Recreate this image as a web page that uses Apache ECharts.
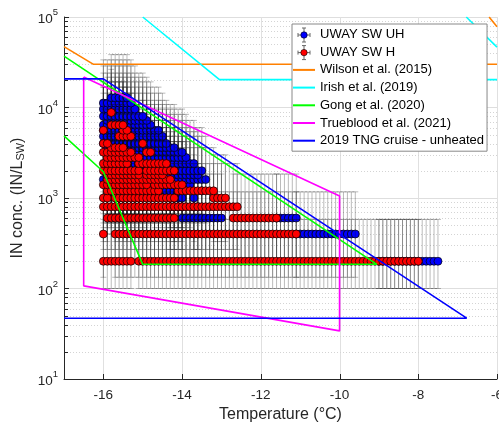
<!DOCTYPE html>
<html><head><meta charset="utf-8">
<script src="https://cdn.jsdelivr.net/npm/echarts@6/dist/echarts.min.js"></script>
<style>html,body{margin:0;padding:0;background:#fff}#c{width:499px;height:423px}</style>
</head><body><div id="c"></div>
<script>
const FONT = 'Liberation Sans, Arial, Helvetica, sans-serif';

// ---- axis ticks ----
const xTickValues = [-16, -14, -12, -10, -8, -6];
const yDecades = [10, 100, 1000, 10000, 100000];

// ---- concentration levels (IN/L) and their error-bar bounds ----
const levels  = [200, 400, 600, 800, 1000, 1200, 1400, 1600, 1800, 2000, 2400, 2800, 3200, 3600, 4000, 4800, 5600, 6400, 7200, 8000, 8800, 9600, 11200, 12800];
const errLow  = [100, 133, 200, 270, 330, 400, 470, 530, 600, 670, 800, 930, 1070, 1200, 1330, 1600, 1870, 2130, 2400, 2670, 2930, 3200, 3730, 4270];
const errHigh = [580, 1170, 1840, 2400, 3000, 3600, 4200, 4800, 5400, 6000, 7200, 8400, 9600, 10800, 12000, 14400, 16800, 19200, 21600, 24000, 26400, 28800, 33600, 38400];

// ---- runs of 0.1 degC-spaced points: [concentration, T from, T to] ----
const runsUH = [
  [200, -9.0, -7.5],
  [400, -11.1, -9.6],
  [600, -14.0, -13.0], [600, -11.6, -11.1],
  [800, -14.3, -14.0], [800, -13.7, -13.6],
  [1000, -14.2, -14.0], [1000, -13.7, -13.7],
  [1200, -14.5, -14.3], [1200, -13.5, -13.5],
  [1400, -14.3, -13.8],
  [1600, -16.0, -13.4],
  [1800, -15.7, -13.6],
  [2000, -15.9, -13.5],
  [2400, -15.8, -13.7],
  [2800, -15.8, -13.9],
  [3200, -15.8, -14.0],
  [3600, -15.9, -14.2],
  [4000, -16.0, -14.4],
  [4800, -16.0, -14.5],
  [5600, -16.0, -14.6],
  [6400, -16.0, -14.8],
  [7200, -15.9, -14.9],
  [8000, -16.0, -15.0],
  [9600, -16.0, -15.2],
  [11200, -16.0, -15.3],
  [12800, -15.8, -15.4]
];
const runsH = [
  [200, -16.0, -15.3], [200, -15.1, -8.0],
  [400, -16.0, -16.0], [400, -15.7, -11.1],
  [600, -15.9, -14.2], [600, -12.7, -11.6],
  [800, -16.0, -15.1], [800, -15.0, -12.6],
  [1000, -16.0, -15.9], [1000, -15.7, -14.2], [1000, -13.2, -12.9],
  [1200, -15.9, -14.6], [1200, -14.1, -13.2],
  [1400, -16.0, -14.9], [1400, -14.7, -14.0],
  [1600, -15.9, -14.9], [1600, -14.8, -14.3],
  [1800, -15.9, -15.1], [1800, -14.9, -14.5],
  [2000, -16.0, -15.1], [2000, -14.9, -14.2],
  [2400, -16.0, -15.4], [2400, -15.1, -14.4],
  [2800, -15.9, -15.1],
  [3200, -16.0, -15.3], [3200, -14.9, -14.8],
  [3600, -15.8, -15.5],
  [4000, -16.0, -15.9], [4000, -15.0, -15.0],
  [4800, -15.6, -15.3],
  [5600, -16.0, -16.0], [5600, -15.5, -15.4],
  [6400, -15.8, -15.5],
  [8800, -15.8, -15.8]
];

// ---- literature parameterisation outlines: [T, IN/L] ----
const wilsonA   = [[-17, 47000], [-16.25, 30000], [-6, 30000]];
const wilsonB   = [[-6.2, 100000], [-6, 78000]];
const irishA    = [[-15.0, 100000], [-13.05, 20300], [-6, 20300]];
const irishB    = [[-6.78, 100000], [-6, 46500]];
const gong      = [[-17, 37000], [-9.05, 185], [-15.0, 185], [-16.0, 1950], [-17, 4850]];
const trueblood = [[-16.5, 21700], [-10, 1050], [-10, 34], [-16.5, 107], [-16.5, 21700]];
const tng       = [[-17, 20700], [-16.0, 20700], [-6.77, 47], [-17, 47]];

function expand(runs) {
  const pts = [], bars = [];
  runs.forEach(function (r) {
    const i = levels.indexOf(r[0]);
    for (let k = Math.round(r[1] * 10); k <= Math.round(r[2] * 10); k++) {
      const t = k / 10;
      pts.push([t, r[0]]);
      bars.push([t, r[0], errLow[i], errHigh[i]]);
    }
  });
  return { pts: pts, bars: bars };
}
const uh = expand(runsUH);
const hh = expand(runsH);

function errItem(params, api) {
  const t = api.value(0);
  const a = api.coord([t, api.value(2)]);
  const b = api.coord([t, api.value(3)]);
  const x = a[0], cw = 3;
  const st = { stroke: 'rgba(20,20,20,0.42)', lineWidth: 0.7 };
  return { type: 'group', children: [
    { type: 'line', shape: { x1: x, y1: a[1], x2: x, y2: b[1] }, style: st },
    { type: 'line', shape: { x1: x - cw, y1: a[1], x2: x + cw, y2: a[1] }, style: st },
    { type: 'line', shape: { x1: x - cw, y1: b[1], x2: x + cw, y2: b[1] }, style: st }
  ]};
}

function decorItem(params, api) {
  const ch = [];
  const r = function (v) { return Math.round(v) + 0.5; };
  xTickValues.forEach(function (t) {
    const a = api.coord([t, 10]), b = api.coord([t, 100000]);
    ch.push({ type: 'line', shape: { x1: r(a[0]), y1: a[1], x2: r(a[0]), y2: b[1] }, style: { stroke: '#e0e0e0', lineWidth: 1 } });
    ch.push({ type: 'line', shape: { x1: r(a[0]), y1: a[1], x2: r(a[0]), y2: a[1] - 5 }, style: { stroke: '#262626', lineWidth: 1 } });
  });
  for (let d = 0; d < yDecades.length - 1; d++) {
    for (let m = 2; m <= 9; m++) {
      const v = yDecades[d] * m;
      const a = api.coord([-17, v]), b = api.coord([-6, v]);
      ch.push({ type: 'line', shape: { x1: a[0], y1: r(a[1]), x2: b[0], y2: r(a[1]) }, style: { stroke: '#d4d4d4', lineWidth: 1, lineDash: [1, 2] } });
      ch.push({ type: 'line', shape: { x1: a[0], y1: r(a[1]), x2: a[0] + 4, y2: r(a[1]) }, style: { stroke: '#262626', lineWidth: 1 } });
    }
  }
  return { type: 'group', children: ch };
}

function legendMarker(cx, cy, color) {
  const gs = { stroke: '#666', lineWidth: 1 };
  return [
    { type: 'line', z: 100, shape: { x1: cx, y1: cy - 7, x2: cx, y2: cy + 7 }, style: gs },
    { type: 'line', z: 100, shape: { x1: cx - 2, y1: cy - 7, x2: cx + 2, y2: cy - 7 }, style: gs },
    { type: 'line', z: 100, shape: { x1: cx - 2, y1: cy + 7, x2: cx + 2, y2: cy + 7 }, style: gs },
    { type: 'line', z: 100, shape: { x1: cx - 6, y1: cy, x2: cx + 6, y2: cy }, style: gs },
    { type: 'line', z: 100, shape: { x1: cx - 6, y1: cy - 2, x2: cx - 6, y2: cy + 2 }, style: gs },
    { type: 'line', z: 100, shape: { x1: cx + 6, y1: cy - 2, x2: cx + 6, y2: cy + 2 }, style: gs },
    { type: 'circle', z: 101, shape: { cx: cx, cy: cy, r: 3.2 }, style: { fill: color, stroke: '#000', lineWidth: 0.6 } }
  ];
}

function lineSeries(name, data, color) {
  return { type: 'line', name: name, data: data, symbol: 'none', showSymbol: false, clip: true, z: 6,
    lineStyle: { color: color, width: 1.6 }, itemStyle: { color: color }, silent: true };
}
const LINE_ICON = 'path://M0,0L22,0L22,2L0,2Z';

const chart = echarts.init(document.getElementById('c'), null, { renderer: 'canvas' });
chart.setOption({
  animation: false,
  backgroundColor: '#fff',
  textStyle: { fontFamily: FONT },
  grid: { left: 64, right: 2, top: 17, bottom: 44, containLabel: false, outerBoundsMode: 'none' },
  xAxis: {
    type: 'value', min: -17, max: -6, interval: 1,
    axisLine: { show: true, onZero: false, lineStyle: { color: '#262626' } },
    axisTick: { show: false }, splitLine: { show: false },
    axisLabel: { formatter: function (v) { return v % 2 === 0 ? String(v) : ''; }, fontSize: 13.5, color: '#262626', margin: 9, fontFamily: FONT, hideOverlap: false },
    name: 'Temperature (°C)', nameLocation: 'middle', nameGap: 26,
    nameTextStyle: { fontSize: 16, color: '#262626', fontFamily: FONT }
  },
  yAxis: {
    type: 'log', logBase: 10, min: 10, max: 100000, splitNumber: 4,
    axisLine: { show: true, lineStyle: { color: '#262626' } },
    axisTick: { show: true, inside: true, length: 5, lineStyle: { color: '#262626' } },
    splitLine: { show: true, lineStyle: { color: '#dedede' } },
    axisLabel: {
      margin: 6, color: '#262626',
      formatter: function (v) { return '{b|10}{s|' + Math.round(Math.log10(v)) + '}'; },
      rich: {
        b: { fontSize: 13.5, fontFamily: FONT, color: '#262626', padding: [5, 0, 0, 0] },
        s: { fontSize: 9.5, fontFamily: FONT, color: '#262626', padding: [0, 0, 9, 0] }
      }
    },
    name: 'IN conc. (IN/L{sub|SW})', nameLocation: 'middle', nameGap: 30, nameRotate: 90,
    nameTextStyle: { fontSize: 16, color: '#262626', fontFamily: FONT,
      rich: { sub: { fontSize: 11, fontFamily: FONT, color: '#262626', padding: [8, 0, 0, 0] } } }
  },
  legend: {
    show: true, orient: 'vertical', left: 292, top: 24,
    padding: [4, 3, 4, 1], itemGap: 4.7, itemWidth: 22, itemHeight: 13,
    backgroundColor: '#fff', borderColor: '#888', borderWidth: 1, borderRadius: 0,
    textStyle: { fontSize: 13, color: '#000', fontFamily: FONT },
    selectedMode: false, z: 20, symbolKeepAspect: true,
    data: [
      { name: 'UWAY SW UH', icon: 'none' },
      { name: 'UWAY SW H', icon: 'none' },
      { name: 'Wilson et al. (2015)', icon: LINE_ICON },
      { name: 'Irish et al. (2019)', icon: LINE_ICON },
      { name: 'Gong et al. (2020)', icon: LINE_ICON },
      { name: 'Trueblood et al. (2021)', icon: LINE_ICON },
      { name: '2019 TNG cruise - unheated', icon: LINE_ICON }
    ]
  },
  graphic: legendMarker(304, 35, '#0000ff').concat(legendMarker(304, 52.6, '#ff0000')),
  series: [
    { type: 'custom', name: 'decor', renderItem: decorItem, data: [[-16, 100]], encode: { x: 0, y: 1 }, z: 1, silent: true },
    { type: 'custom', name: 'errUH', renderItem: errItem, data: uh.bars, encode: { x: 0, y: 1 }, clip: true, z: 2, silent: true },
    { type: 'scatter', name: 'UWAY SW UH', data: uh.pts, symbol: 'circle', symbolSize: 8, large: false, z: 3, silent: true,
      itemStyle: { color: '#0000ff', borderColor: '#000', borderWidth: 0.7, opacity: 1 } },
    { type: 'custom', name: 'errH', renderItem: errItem, data: hh.bars, encode: { x: 0, y: 1 }, clip: true, z: 4, silent: true },
    { type: 'scatter', name: 'UWAY SW H', data: hh.pts, symbol: 'circle', symbolSize: 8, large: false, z: 5, silent: true,
      itemStyle: { color: '#ff0000', borderColor: '#000', borderWidth: 0.7, opacity: 1 } },
    lineSeries('Wilson et al. (2015)', wilsonA, '#ff8000'),
    lineSeries('Wilson et al. (2015)', wilsonB, '#ff8000'),
    lineSeries('Irish et al. (2019)', irishA, '#00ffff'),
    lineSeries('Irish et al. (2019)', irishB, '#00ffff'),
    lineSeries('Gong et al. (2020)', gong, '#00ff00'),
    lineSeries('Trueblood et al. (2021)', trueblood, '#ff00ff'),
    lineSeries('2019 TNG cruise - unheated', tng, '#0000ff')
  ]
});
</script></body></html>
